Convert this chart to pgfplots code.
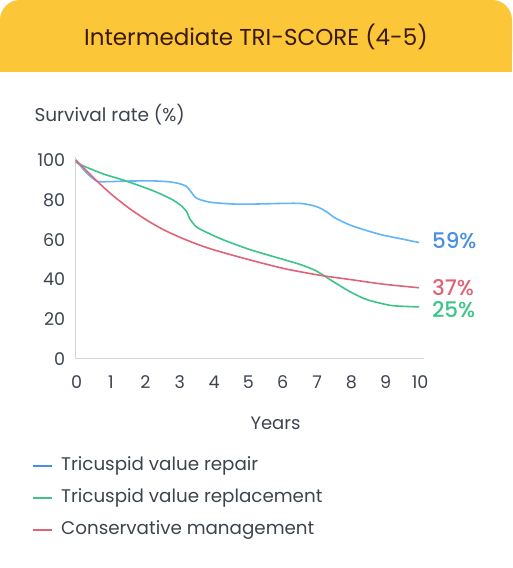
\documentclass[border=0pt]{standalone}
\usepackage{fontspec}
\setmainfont{Poppins}
\newfontfamily\medfont{Poppins Medium}
\usepackage{pgfplots}
\pgfplotsset{compat=1.18}

\definecolor{hdr}{HTML}{FBC638}
\definecolor{titletxt}{HTML}{3B1A0A}
\definecolor{txtgray}{HTML}{3D4450}
\definecolor{axgray}{HTML}{D3D7DC}
\definecolor{repair}{HTML}{64B5F6}
\definecolor{repairlbl}{HTML}{4A90E2}
\definecolor{replace}{HTML}{3CC48A}
\definecolor{conserv}{HTML}{E06478}

\begin{document}
\begin{tikzpicture}[x=1pt,y=1pt]
% card
\fill[white] (0,0) rectangle (512,568);
\fill[hdr, rounded corners=20pt] (0,496) rectangle (512,568);
\fill[hdr] (0,496) rectangle (512,530);
\node[text=titletxt, font=\fontsize{23}{27}\selectfont] at (256,531) {Intermediate TRI-SCORE (4-5)};
\node[text=txtgray, anchor=west, font=\fontsize{18.5}{22}\selectfont] at (31,453) {Survival rate (\%)};

\begin{axis}[
    at={(75.7pt,209pt)}, anchor=south west,
    scale only axis, width=348.5pt, height=202pt,
    xmin=0, xmax=10.15, ymin=0, ymax=101.5,
    axis x line=bottom, axis y line=left,
    axis line style={axgray, line width=1pt, -},
    xtick={0,1,...,10}, ytick={0,20,...,100},
    major tick length=0pt,
    /pgf/number format/assume math mode=true,
    tick label style={text=txtgray, font=\fontsize{17.5}{21}\selectfont},
    xticklabel style={anchor=base, yshift=-30pt, xshift=1pt},
    yticklabel style={anchor=east, xshift=-7pt},
    clip=false,
    every axis plot/.append style={line width=1.6pt, smooth, tension=0.45, no marks},
]
\addplot[repair] coordinates {
  (0,100) (0.30,93.8) (0.61,89.4) (0.91,89.1) (1.52,89.4) (2.23,89.5) (2.74,89.0)
  (3.04,88.0) (3.22,86.8) (3.35,84.2) (3.52,80.8) (3.91,78.8) (4.56,77.9)
  (5.07,77.8) (6.08,78.2) (6.59,78.1) (7.01,76.6) (7.31,74.0) (7.52,71.2)
  (7.99,67.3) (8.52,64.3) (8.96,62.2) (9.53,60.2) (10,58.5)
};
\addplot[replace] coordinates {
  (0,99) (0.2,97.2) (0.80,93.0) (1.44,89.6) (2.26,84.5) (2.79,80.3)
  (3.09,76.8) (3.24,73.8) (3.32,70.5) (3.48,67.0) (3.62,65.3) (4.21,60.5)
  (5.07,55.0) (6.05,50.0) (6.59,47.2) (7.01,44.2) (7.50,38.9) (7.99,33.8)
  (8.47,29.9) (9.15,27.0) (9.63,26.4) (10,26.2)
};
\addplot[conserv] coordinates {
  (0,100) (0.51,91.2) (1.01,83.2) (1.52,76.2) (2.03,70.2) (2.53,65.2)
  (3.04,61.1) (3.55,57.6) (4.05,54.7) (5.07,49.8) (6.08,45.4) (7.10,42.1)
  (8.01,39.9) (8.96,37.6) (10,35.8)
};
\node[anchor=west, text=repairlbl, font=\fontsize{21.5}{25}\medfont] at (axis cs:10,59.5) {\hspace*{9.5pt}59\%};
\node[anchor=west, text=conserv, font=\fontsize{21.5}{25}\medfont] at (axis cs:10,36) {\hspace*{9.5pt}37\%};
\node[anchor=west, text=replace, font=\fontsize{21.5}{25}\medfont] at (axis cs:10,25) {\hspace*{9.5pt}25\%};
\end{axis}

\node[text=txtgray, font=\fontsize{18}{21}\selectfont] at (275.5,145) {Years};

% legend
\foreach \yy/\col/\lab in {102/repairlbl/Tricuspid value repair,
                           70/replace/Tricuspid value replacement,
                           38/conserv/Conservative management} {
  \draw[\col, line width=2.8pt] (33,\yy) -- (52,\yy);
  \node[text=txtgray, anchor=west, inner sep=0pt, font=\fontsize{18.3}{22}\selectfont] at (61,\yy) {\lab};
}
\end{tikzpicture}
\end{document}
